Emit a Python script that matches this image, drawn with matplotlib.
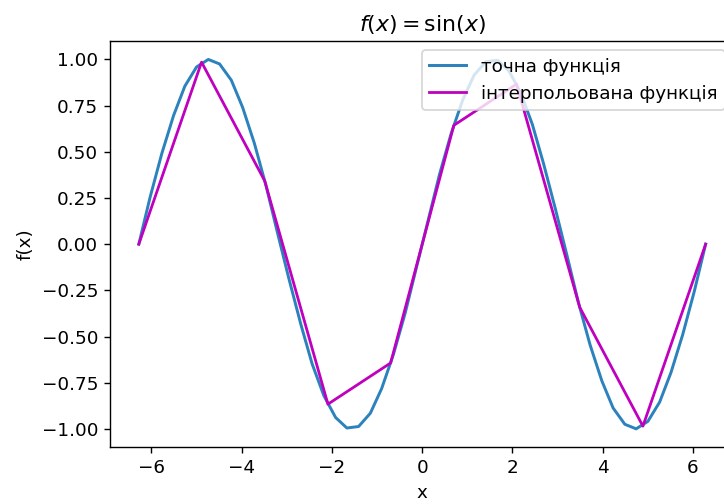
import matplotlib
matplotlib.use("Agg")
import matplotlib.pyplot as plt

# exact function sampled on 50 points
x_exact = [-6.28, -6.03, -5.77, -5.51, -5.26, -5.00, -4.74, -4.49, -4.23, -3.98,
           -3.72, -3.46, -3.21, -2.95, -2.69, -2.44, -2.18, -1.92, -1.67, -1.41,
           -1.15, -0.90, -0.64, -0.38, -0.13, 0.13, 0.38, 0.64, 0.90, 1.15,
           1.41, 1.67, 1.92, 2.18, 2.44, 2.69, 2.95, 3.21, 3.46, 3.72,
           3.98, 4.23, 4.49, 4.74, 5.00, 5.26, 5.51, 5.77, 6.03, 6.28]
y_exact = [0.0, 0.254, 0.491, 0.696, 0.855, 0.959, 0.9995, 0.975, 0.887, 0.740,
           0.546, 0.315, 0.064, -0.191, -0.434, -0.648, -0.820, -0.938, -0.995, -0.987,
           -0.915, -0.782, -0.598, -0.375, -0.128, 0.128, 0.375, 0.598, 0.782, 0.915,
           0.987, 0.995, 0.938, 0.820, 0.648, 0.434, 0.191, -0.064, -0.315, -0.546,
           -0.740, -0.887, -0.975, -0.9995, -0.959, -0.855, -0.696, -0.491, -0.254, 0.0]

# interpolation nodes
x_nodes = [-6.28, -4.89, -3.49, -2.09, -0.70, 0.70, 2.09, 3.49, 4.89, 6.28]
y_nodes = [0.0, 0.985, 0.342, -0.866, -0.643, 0.643, 0.866, -0.342, -0.985, 0.0]

plt.rcParams['font.size'] = 10.6
plt.rcParams['axes.titlesize'] = 12.7

fig = plt.figure(figsize=(724 / 125, 504 / 125), dpi=125)
# the reference is a cropped screenshot: axes run past the right edge
ax = fig.add_axes([0.1526, 0.1125, 0.8612, 0.8062])

ax.plot(x_exact, y_exact, color='#2c82bd', lw=1.7, label='точна функція')
ax.plot(x_nodes, y_nodes, color='m', lw=1.6, label='інтерпольована функція')

ax.set_title(r'$f(x) = \sin(x)$')
ax.set_xlabel('x')
ax.set_ylabel('f(x)')
ax.legend(loc='upper right')

fig.savefig('out.png', dpi=125)
